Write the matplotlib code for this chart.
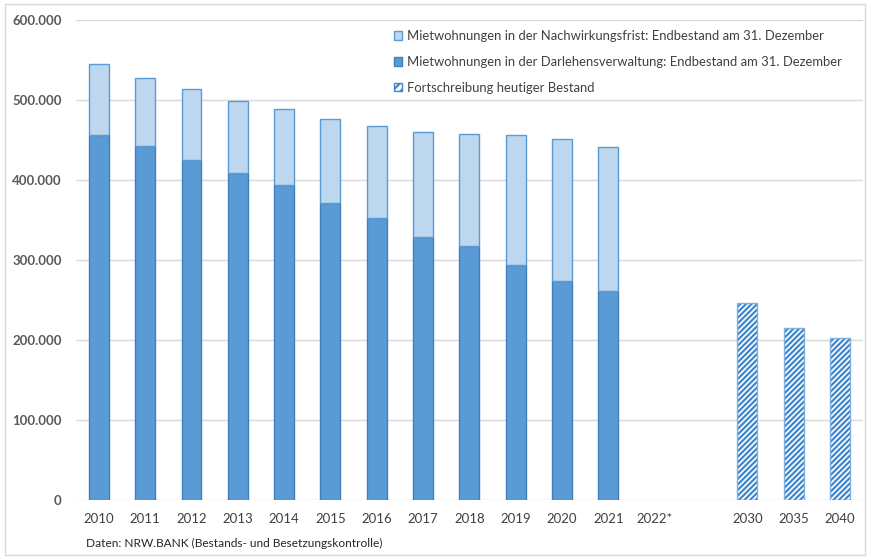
import matplotlib
matplotlib.use("Agg")
import matplotlib.pyplot as plt
from matplotlib.patches import Patch, Rectangle
from matplotlib.ticker import FuncFormatter

plt.rcParams['font.family'] = ['Lato', 'DejaVu Sans']
plt.rcParams['hatch.linewidth'] = 1.6

categories = ["2010", "2011", "2012", "2013", "2014", "2015", "2016", "2017",
              "2018", "2019", "2020", "2021", "2022*", "", "2030", "2035", "2040"]
# Darlehensverwaltung (dark), total incl. Nachwirkungsfrist
darlehen_years = ["2010", "2011", "2012", "2013", "2014", "2015", "2016", "2017",
                  "2018", "2019", "2020", "2021"]
darlehen = [456000, 442500, 425000, 409000, 394000, 371000, 352500, 329000,
            317500, 294000, 274000, 261000]
total = [545000, 527500, 514000, 499000, 489000, 476000, 467500, 460000,
         457500, 456000, 451000, 441000]
nachwirkung = [t - d for t, d in zip(total, darlehen)]
forecast_years = ["2030", "2035", "2040"]
forecast = [246000, 215000, 202500]

LIGHT = "#BDD7EE"
DARK = "#5B9BD5"
EDGE_DARK = "#3F7FC0"
EDGE_LIGHT = "#5B9BD5"
HATCH = "#3F86CC"

fig = plt.figure(figsize=(8.7, 5.59), dpi=100)
ax = fig.add_axes([0.087, 0.1055, 0.905, 0.8585])

pos = {c: i for i, c in enumerate(categories)}
xd = [pos[y] for y in darlehen_years]
xf = [pos[y] for y in forecast_years]
w = 0.43

ax.bar(xd, darlehen, width=w, color=DARK, edgecolor=EDGE_DARK, linewidth=1.0, zorder=3)
ax.bar(xd, nachwirkung, bottom=darlehen, width=w, color=LIGHT, edgecolor=EDGE_LIGHT,
       linewidth=1.0, zorder=3)
ax.bar(xf, forecast, width=w, color="white", edgecolor=HATCH, linewidth=0,
       hatch="//////", zorder=3)
ax.bar(xf, forecast, width=w, fill=False, edgecolor="#7FB0E0", linewidth=1.0, zorder=4)

ax.set_xlim(-0.5, len(categories) - 0.5)
ax.set_ylim(0, 600000)
ax.set_yticks(range(0, 600001, 100000))
ax.yaxis.set_major_formatter(FuncFormatter(lambda v, p: f"{int(v):,}".replace(",", ".")))
ax.set_xticks(range(len(categories)))
ax.set_xticklabels(categories)
ax.tick_params(axis='both', length=0, labelsize=9.5, colors="#404040")
ax.tick_params(axis='x', pad=9)
ax.tick_params(axis='y', pad=10)
for lab in ax.get_yticklabels():
    lab.set_fontweight('bold')
    lab.set_color('#595959')
ax.grid(axis='y', color="#D9D9D9", linewidth=1.0, zorder=0)
for s in ax.spines.values():
    s.set_visible(False)

handles = [Patch(facecolor=LIGHT, edgecolor=EDGE_LIGHT, linewidth=1.0),
           Patch(facecolor=DARK, edgecolor=EDGE_DARK, linewidth=1.0),
           Patch(facecolor="white", edgecolor=HATCH, hatch="////", linewidth=1.0)]
labels = ["Mietwohnungen in der Nachwirkungsfrist: Endbestand am 31. Dezember",
          "Mietwohnungen in der Darlehensverwaltung: Endbestand am 31. Dezember",
          "Fortschreibung heutiger Bestand"]
leg = ax.legend(handles, labels, loc='upper left', bbox_to_anchor=(0.398, 0.99),
                frameon=False, fontsize=9.4, handlelength=0.6, handleheight=0.6,
                handletextpad=0.35, labelspacing=1.06, borderaxespad=0)
for t in leg.get_texts():
    t.set_color("#404040")

fig.text(86 / 870, 1 - 543 / 559, "Daten: NRW.BANK (Bestands- und Besetzungskontrolle)",
         fontsize=8.6, color="#262626", va='center', ha='left')

fig.patches.append(Rectangle((5 / 870, 4 / 559), 860 / 870, 551 / 559, transform=fig.transFigure,
                             fill=False, edgecolor="#D9D9D9", linewidth=1.0))

fig.savefig("out.png", dpi=100)
